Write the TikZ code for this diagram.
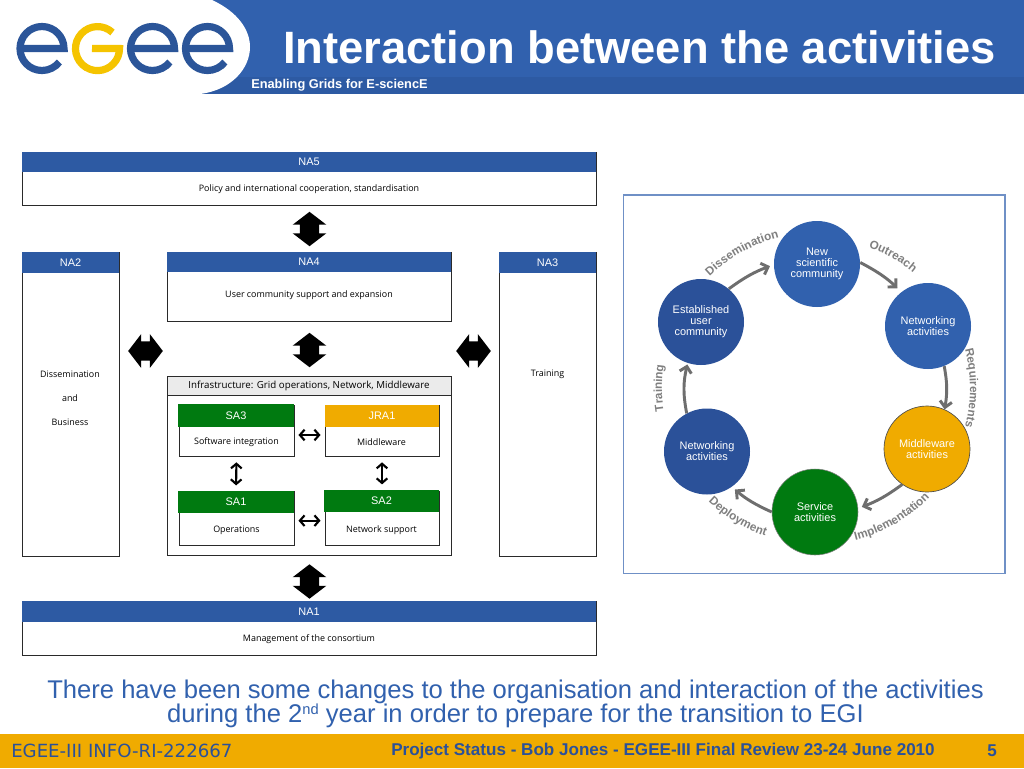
\documentclass[tikz,border=0pt]{standalone}
\usepackage{fontspec}
\setmainfont{Liberation Sans}
\newfontfamily\myr{Open Sans}
\newfontfamily\dvs{DejaVu Sans}
\usetikzlibrary{arrows.meta,shapes.arrows,decorations.text,positioning}
\definecolor{egblue}{HTML}{3161AE}
\definecolor{egdark}{HTML}{2B5199}
\definecolor{egstrip}{HTML}{2D5AA3}
\definecolor{egorange}{HTML}{F0AB00}
\definecolor{eggreen}{HTML}{007A10}
\definecolor{eggrey}{HTML}{7F7F7F}
\definecolor{arrowgrey}{HTML}{6E6E6E}
\definecolor{logoblue}{HTML}{2B5599}
\definecolor{logoyellow}{HTML}{F5C400}
\definecolor{inkline}{HTML}{2A2A2A}
\tikzset{
  x=0.75pt,y=0.75pt,
  boxbody/.style={draw=inkline,line width=0.7pt,fill=white,inner sep=0pt,font=\myr\fontsize{6.7}{8}\selectfont,text=black},
  headbar/.style={draw=none,inner sep=0pt,font=\fontsize{8.2}{10}\selectfont,text=white},
  nahead/.style={headbar,fill=egstrip},
  sahead/.style={headbar,fill=eggreen},
  jrahead/.style={headbar,fill=egorange},
  infrahead/.style={draw=inkline,line width=0.7pt,fill=black!8,inner sep=0pt,font=\myr\fontsize{7.3}{9}\selectfont,text=black},
  plain/.style={inner sep=0pt,font=\myr\fontsize{6.7}{8}\selectfont,text=black},
  bigv/.style={double arrow,fill=black,draw=none,shape border rotate=90,minimum height=25.5pt,double arrow head extend=5.3pt,double arrow tip angle=105,inner sep=7.1pt},
  bigh/.style={double arrow,fill=black,draw=none,minimum height=26pt,double arrow head extend=5.3pt,double arrow tip angle=105,inner sep=7.1pt},
  smallarrow/.style={{Straight Barb[length=3.5pt,width=8pt]}-{Straight Barb[length=3.5pt,width=8pt]},line width=1.6pt,black},
  bubble/.style={circle,minimum size=64.5pt,inner sep=0pt,align=center,text=white,font=\fontsize{8.2}{8.3}\selectfont},
  cyc/.style={-{Straight Barb[length=4.5pt,width=9pt]},line width=2.2pt,arrowgrey},
  logoline/.style={line width=5.4pt,logoblue},
  msgtext/.style={inner sep=0pt,anchor=base,text=egblue,font=\fontsize{19.2}{20}\selectfont},
  arctext/.style={decorate,decoration={text along path,text align=center,text format delimiters={|}{|}}},
}
\newcommand{\pxbox}[7]{\node[#6,minimum width={(#4-#2)*0.75pt},minimum height={(#5-#3)*0.75pt}] (#1) at ({(#2+#4)/2},{-(#3+#5)/2}) {#7};}
\newcommand{\arcfmt}{|\fontsize{8.8}{9}\selectfont\bfseries\color{eggrey}|}
\begin{document}
\begin{tikzpicture}
\useasboundingbox (0,0) rectangle (1024,-768);
\fill[white] (0,0) rectangle (1024,-768);
% header
\fill[egblue] (0,0) rectangle (1024,-94);
\fill[egstrip] (200,-77) rectangle (1024,-94);
\fill[white] (0,0) -- (212,0) .. controls (238,-12) and (250,-30) .. (250,-47) .. controls (250,-68) and (232,-90) .. (200,-94) -- (0,-94) -- cycle;
% logo
\draw[logoline] (20,-48.5) -- (64,-48.5) arc[start angle=0,end angle=322,radius=22];
\draw[logoline,logoyellow] (112.5,-32.5) arc[start angle=47,end angle=360,radius=22] -- (92,-48.5);
\draw[logoline] (130.5,-48.5) -- (174.5,-48.5) arc[start angle=0,end angle=322,radius=22];
\draw[logoline] (185.5,-48.5) -- (229.5,-48.5) arc[start angle=0,end angle=322,radius=22];
\node[inner sep=0pt,text=white,font=\bfseries\fontsize{34}{36}\selectfont] (title) at (639.5,-47) {Interaction between the activities};
\node[inner sep=0pt,text=white,font=\bfseries\fontsize{9.6}{10}\selectfont,anchor=west] (enabling) at (251,-85.5) {Enabling Grids for E-sciencE};
% left diagram
\pxbox{na5b}{22}{152}{596}{205}{boxbody}{}
\pxbox{na5}{22}{152}{596}{172}{nahead}{NA5}
\node[plain] (na5t) at (309,-189) {Policy and international cooperation, standardisation};
\pxbox{na2b}{22}{252}{119}{556}{boxbody}{}
\pxbox{na2}{22}{252}{119}{273}{nahead}{NA2}
\node[plain,align=center,font=\myr\fontsize{6.7}{18}\selectfont] (na2t) at (70,-398) {Dissemination\\and\\Business};
\pxbox{na4b}{167}{252}{451}{321}{boxbody}{}
\pxbox{na4}{167}{252}{451}{272}{nahead}{NA4}
\node[plain] (na4t) at (309,-295.5) {User community support and expansion};
\pxbox{na3b}{499}{252}{596}{556}{boxbody}{}
\pxbox{na3}{499}{252}{596}{273}{nahead}{NA3}
\node[plain] (na3t) at (547.5,-374) {Training};
\pxbox{infra}{167}{376}{451}{555.5}{boxbody}{}
\pxbox{infrah}{167}{376}{451}{395}{infrahead}{Infrastructure: Grid operations, Network, Middleware}
\pxbox{sa3b}{179}{405}{294}{456.5}{boxbody}{}
\pxbox{sa3}{178}{404}{294}{426.5}{sahead}{SA3}
\node[plain] (sa3t) at (236.5,-442) {Software integration};
\pxbox{jrab}{325}{405}{439}{456.5}{boxbody}{}
\pxbox{jra}{325}{405}{439}{426.5}{jrahead}{JRA1}
\node[plain] (jrat) at (381.5,-442) {Middleware};
\pxbox{sa1b}{179}{491}{294}{545}{boxbody}{}
\pxbox{sa1}{178}{491}{294}{513}{sahead}{SA1}
\node[plain] (sa1t) at (236.5,-530.5) {Operations};
\pxbox{sa2b}{325}{491}{439}{545}{boxbody}{}
\pxbox{sa2}{324}{490}{439}{512}{sahead}{SA2}
\node[plain] (sa2t) at (381.5,-530) {Network support};
\pxbox{na1b}{22}{601}{596}{655}{boxbody}{}
\pxbox{na1}{22}{601}{596}{622}{nahead}{NA1}
\node[plain] (na1t) at (309,-639.5) {Management of the consortium};
% big arrows
\node[bigv] (av1) at (309.5,-229) {};
\node[bigv] (av2) at (309.5,-350) {};
\node[bigv] (av3) at (309.5,-581.5) {};
\node[bigh] (ah1) at (145.5,-351) {};
\node[bigh] (ah2) at (473.5,-351) {};
% small arrows
\draw[smallarrow,shorten >=3pt,shorten <=3pt] ([yshift=-3.2pt]sa3b.east) -- ([yshift=-3.2pt]jrab.west);
\draw[smallarrow,shorten >=3pt,shorten <=3pt] ([yshift=-2pt]sa1b.east) -- ([yshift=-2pt]sa2b.west);
\draw[smallarrow,shorten >=4pt,shorten <=4pt] (sa3b.south) -- (sa1.north);
\draw[smallarrow,shorten >=4pt,shorten <=4pt] (jrab.south) -- (sa2.north -| jrab.south);
% right diagram
\draw[draw=egblue!70,line width=0.8pt] (623.5,-195) rectangle (1005,-573.5);
\node[bubble,fill=egblue] (new) at (817,-264) {New\\scientific\\community};
\node[bubble,fill=egblue] (netr) at (928,-326) {Networking\\activities};
\node[bubble,fill=egorange,draw=black!70,line width=0.5pt] (mid) at (927,-449) {Middleware\\activities};
\node[bubble,fill=eggreen,draw=black!50,line width=0.4pt] (svc) at (815,-512) {Service\\activities};
\node[bubble,fill=egdark] (netl) at (707,-451.5) {Networking\\activities};
\node[bubble,fill=egdark] (est) at (701,-322) {Established\\user\\community};
\draw[cyc,shorten >=3pt] (est.50) to[bend left=8] (new.181);
\draw[cyc,shorten >=4pt] (new.2) to[bend left=8] (netr.128);
\draw[cyc,shorten >=0pt] (netr.-68) to[bend left=10] (mid.66);
\draw[cyc,shorten >=3pt] (mid.235) to[bend left=8] (svc.5);
\draw[cyc,shorten >=3pt] (svc.180) to[bend left=8] (netl.-55);
\draw[cyc,shorten >=1pt] (netl.118) to[bend left=12] (est.-108);
\coordinate (cc) at (817,-388);
\path[arctext,decoration={text={\arcfmt Dissemination}}] (cc) ++(142:155) arc[start angle=142,end angle=96,radius=155];
\path[arctext,decoration={text={\arcfmt Outreach}}] (cc) ++(80:150) arc[start angle=80,end angle=40,radius=150];
\path[arctext,decoration={text={\arcfmt Requirements}}] (cc) ++(25:153) arc[start angle=25,end angle=-25,radius=153];
\path[arctext,decoration={text={\arcfmt Implementation}}] (cc) ++(-84:157) arc[start angle=-84,end angle=-36,radius=157];
\path[arctext,decoration={text={\arcfmt Deployment}}] (cc) ++(217:157) arc[start angle=217,end angle=260,radius=157];
\path[arctext,decoration={text={\arcfmt Training}}] (cc) ++(197:155) arc[start angle=197,end angle=163,radius=155];
% bottom text
\node[msgtext] (msga) at (515.5,-698) {There have been some changes to the organisation and interaction of the activities};
\node[msgtext] (msgb) at (515.5,-722) {during the 2{\fontsize{11}{11}\selectfont\raisebox{6pt}{nd}} year in order to prepare for the transition to EGI};
% footer
\fill[egorange] (0,-734) rectangle (1024,-768);
\node[inner sep=0pt,anchor=west,text=egdark,font=\dvs\fontsize{13.6}{14}\selectfont] (ref) at (11,-751) {EGEE-III INFO-RI-222667};
\node[inner sep=0pt,text=egdark,font=\bfseries\fontsize{12.8}{14}\selectfont] (status) at (663,-751) {Project Status - Bob Jones - EGEE-III Final Review 23-24 June 2010};
\node[inner sep=0pt,text=egdark,font=\bfseries\fontsize{12.8}{14}\selectfont] (page) at (992,-751) {5};
\end{tikzpicture}
\end{document}
